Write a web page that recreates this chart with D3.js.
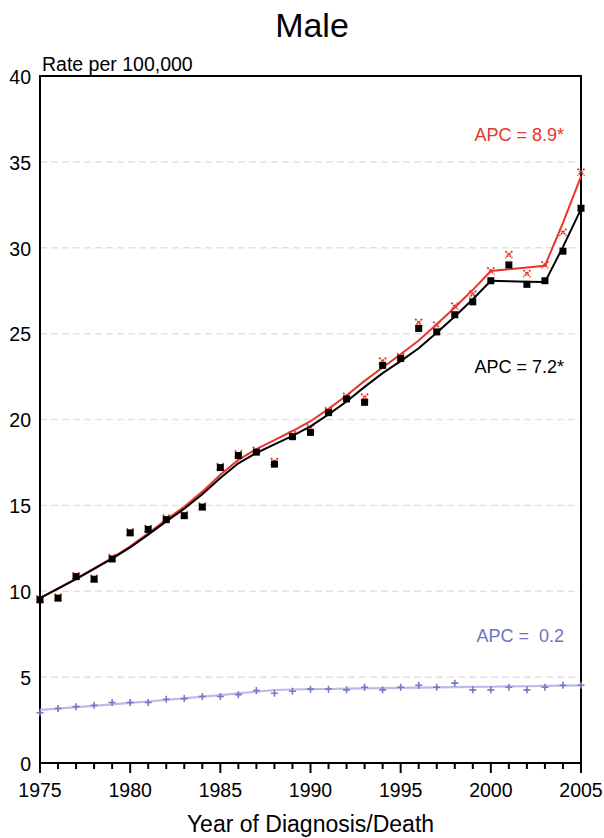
<!DOCTYPE html>
<html>
<head>
<meta charset="utf-8">
<script src="https://cdn.jsdelivr.net/npm/d3@7"></script>
<style>
  body { margin: 0; background: #fff; }
  svg { display: block; font-family: "Liberation Sans", Arial, sans-serif; }
</style>
</head>
<body>
<svg id="chart"></svg>
<script>
// Năm
const years = d3.range(1975, 2006);

// Tỷ lệ quan sát (ô vuông đen) và đường fit
const observed = [9.5, 9.6, 10.85, 10.7, 11.88, 13.4, 13.6, 14.17, 14.4, 14.9,
    17.2, 17.9, 18.1, 17.4, 19.0, 19.25, 20.4, 21.2, 21.0, 23.15,
    23.55, 25.3, 25.1, 26.1, 26.85, 28.08, 29.0, 27.87, 28.08, 29.8, 32.3];
const observedFit = [9.6, 10.15, 10.7, 11.3, 11.9, 12.55, 13.3, 14.07, 14.8, 15.65,
    16.6, 17.45, 18.05, 18.55, 19.05, 19.6, 20.3, 21.05, 21.9, 22.7,
    23.4, 24.15, 25.05, 26.0, 27.0, 28.08, 28.05, 28.02, 28.0, 30.05, 32.25];

// Tỷ lệ hiệu chỉnh (dấu x đỏ)
const adjusted = [9.55, 9.65, 10.9, 10.75, 11.95, 13.45, 13.65, 14.25, 14.45, 14.95,
    17.25, 18.0, 18.2, 17.55, 19.1, 19.5, 20.5, 21.35, 21.3, 23.4,
    23.65, 25.65, 25.5, 26.6, 27.3, 28.65, 29.6, 28.5, 29.0, 30.9, 34.4];
const adjustedFit = [9.6, 10.17, 10.73, 11.33, 11.95, 12.62, 13.38, 14.17, 14.92, 15.8,
    16.78, 17.65, 18.28, 18.8, 19.33, 19.9, 20.62, 21.4, 22.25, 23.03,
    23.8, 24.6, 25.55, 26.52, 27.55, 28.65, 28.75, 28.85, 28.95, 31.45, 34.15];

// Tử vong (dấu + xanh)
const mortality = [2.93, 3.17, 3.28, 3.36, 3.52, 3.52, 3.52, 3.71, 3.75, 3.87,
    3.87, 3.98, 4.22, 4.06, 4.18, 4.3, 4.3, 4.26, 4.41, 4.26,
    4.41, 4.53, 4.41, 4.65, 4.26, 4.26, 4.41, 4.26, 4.41, 4.53, 4.53];
const mortalityFit = [3.09, 3.17, 3.25, 3.33, 3.41, 3.5, 3.58, 3.67, 3.76, 3.86,
    3.95, 4.05, 4.15, 4.25, 4.28, 4.3, 4.31, 4.33, 4.34, 4.36,
    4.37, 4.39, 4.4, 4.42, 4.43, 4.44, 4.46, 4.47, 4.49, 4.5, 4.52];

const yTicks = [0, 5, 10, 15, 20, 25, 30, 35, 40];
const xTickLabels = [1975, 1980, 1985, 1990, 1995, 2000, 2005];

const apcLabels = [
    { text: "APC = 8.9*", value: 36.6, color: "#e8352c" },
    { text: "APC = 7.2*", value: 23.1, color: "#000" },
    { text: "APC =  0.2", value: 7.4, color: "#6f73c2" }
];

const W = 604, H = 838;
const margin = { top: 76, right: 23, bottom: 75, left: 40 };
const width = W - margin.left - margin.right,
    height = H - margin.top - margin.bottom;

const svg = d3.select("#chart").attr("width", W).attr("height", H);
const g = svg.append("g").attr("transform", `translate(${margin.left},${margin.top})`);

const x = d3.scaleLinear().domain([1975, 2005]).range([0, width]);
const y = d3.scaleLinear().domain([0, 40]).range([height, 0]);

// Tiêu đề
svg.append("text")
    .attr("x", W / 2 + 10)
    .attr("y", 37)
    .attr("text-anchor", "middle")
    .style("font-size", "34px")
    .text("Male");

g.append("text")
    .attr("x", 2)
    .attr("y", -5)
    .style("font-size", "19.5px")
    .text("Rate per 100,000");

// Lưới
g.selectAll(".grid")
    .data(yTicks.filter(d => d > 0 && d < 40))
    .enter().append("line")
    .attr("x1", 0).attr("x2", width)
    .attr("y1", d => y(d)).attr("y2", d => y(d))
    .attr("stroke", "#e2e2e2")
    .attr("stroke-width", 1.5)
    .attr("stroke-dasharray", "7,4");

// Nhãn trục Y
g.selectAll(".ylab")
    .data(yTicks)
    .enter().append("text")
    .attr("x", -9)
    .attr("y", d => y(d))
    .attr("dy", "0.4em")
    .attr("text-anchor", "end")
    .style("font-size", "19.5px")
    .text(d => d);

// Khung
g.append("path")
    .attr("d", `M0,${height}V0H${width}V${height}H0`)
    .attr("fill", "none")
    .attr("stroke", "#000")
    .attr("stroke-width", 2);

// Vạch trục X
g.selectAll(".xtick")
    .data(years)
    .enter().append("line")
    .attr("x1", d => x(d)).attr("x2", d => x(d))
    .attr("y1", height)
    .attr("y2", d => height + (d % 5 === 0 ? 10 : 6))
    .attr("stroke", "#000")
    .attr("stroke-width", 2);

g.selectAll(".xlab")
    .data(xTickLabels)
    .enter().append("text")
    .attr("x", d => x(d))
    .attr("y", height + 34)
    .attr("text-anchor", "middle")
    .style("font-size", "19.5px")
    .text(d => d);

g.append("text")
    .attr("x", width / 2)
    .attr("y", height + 69)
    .attr("text-anchor", "middle")
    .style("font-size", "23px")
    .text("Year of Diagnosis/Death");

const line = d3.line().x((d, i) => x(years[i])).y(d => y(d));

// Tử vong
g.append("path")
    .datum(mortalityFit)
    .attr("d", line)
    .attr("fill", "none")
    .attr("stroke", "#b9bce8")
    .attr("stroke-width", 2.2);

g.selectAll(".plus")
    .data(mortality)
    .enter().append("path")
    .attr("d", (d, i) => {
        const cx = x(years[i]), cy = y(d);
        return `M${cx - 3.5},${cy}H${cx + 3.5}M${cx},${cy - 3.5}V${cy + 3.5}`;
    })
    .attr("stroke", "#7478c6")
    .attr("stroke-width", 1.6);

// Hiệu chỉnh
g.append("path")
    .datum(adjustedFit)
    .attr("d", line)
    .attr("fill", "none")
    .attr("stroke", "#e8352c")
    .attr("stroke-width", 2);

g.selectAll(".xmark")
    .data(adjusted)
    .enter().append("path")
    .attr("d", (d, i) => {
        const cx = x(years[i]), cy = y(d);
        return `M${cx - 3.5},${cy - 3.5}L${cx + 3.5},${cy + 3.5}M${cx + 3.5},${cy - 3.5}L${cx - 3.5},${cy + 3.5}`;
    })
    .attr("stroke", "#e8352c")
    .attr("stroke-width", 1.8)
    .attr("stroke-dasharray", "2,1");

// Quan sát
g.append("path")
    .datum(observedFit)
    .attr("d", line)
    .attr("fill", "none")
    .attr("stroke", "#000")
    .attr("stroke-width", 2);

g.selectAll(".sq")
    .data(observed)
    .enter().append("rect")
    .attr("x", (d, i) => x(years[i]) - 3.5)
    .attr("y", d => y(d) - 3.5)
    .attr("width", 7)
    .attr("height", 7)
    .attr("fill", "#000");

// Nhãn APC
g.selectAll(".apc")
    .data(apcLabels)
    .enter().append("text")
    .attr("x", width - 17)
    .attr("y", d => y(d.value))
    .attr("dy", "0.35em")
    .attr("text-anchor", "end")
    .attr("fill", d => d.color)
    .style("font-size", "18px")
    .style("white-space", "pre")
    .text(d => d.text);
</script>
</body>
</html>
